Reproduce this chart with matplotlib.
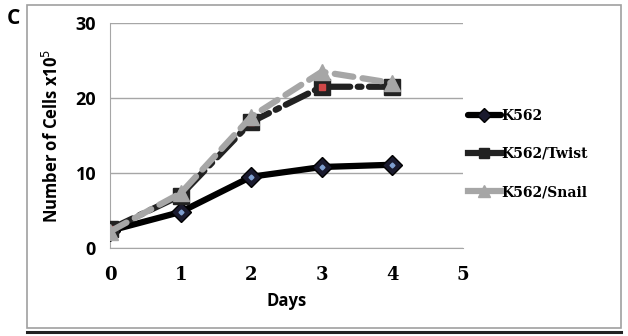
import matplotlib
matplotlib.use("Agg")
import matplotlib.pyplot as plt
from matplotlib.patches import Rectangle
from matplotlib.lines import Line2D

days = [0, 1, 2, 3, 4]
k562 = [2.3, 4.8, 9.5, 10.8, 11.1]
twist = [2.5, 7.0, 16.8, 21.5, 21.5]
snail = [2.2, 7.3, 17.5, 23.5, 22.0]
series_names = ["K562", "K562/Twist", "K562/Snail"]
x_ticks = [0, 1, 2, 3, 4, 5]
y_ticks = [0, 10, 20, 30]

W, H = 628, 336
fig = plt.figure(figsize=(W / 100, H / 100), dpi=100)

def fx(px):
    return px / W

def fy(py):
    return 1 - py / H

# outer frame
fig.patches.append(Rectangle((fx(27), fy(328)), fx(621) - fx(27), fy(5) - fy(328),
                             transform=fig.transFigure, fill=False, edgecolor="#a0a0a0", lw=1.2))
fig.lines.append(Line2D([fx(27), fx(621)], [fy(332), fy(332)], transform=fig.transFigure,
                        color="#222222", lw=2.2))

ax = fig.add_axes([fx(110), fy(248), fx(463) - fx(110), fy(23) - fy(248)])
ax.set_xlim(0, 5)
ax.set_ylim(0, 30)
ax.set_yticks(y_ticks)
ax.set_xticks(x_ticks)
ax.grid(axis="y", color="#a6a6a6", lw=1.0)
ax.set_axisbelow(True)
for s in ["top", "right"]:
    ax.spines[s].set_visible(False)
ax.spines["left"].set_color("#a6a6a6")
ax.spines["bottom"].set_color("#a6a6a6")
ax.tick_params(length=0)
ax.tick_params(axis="y", pad=10)
ax.tick_params(axis="x", pad=13)
for lab in ax.get_yticklabels():
    lab.set_fontfamily("Open Sans")
    lab.set_fontweight("bold")
    lab.set_fontsize(13)
for lab in ax.get_xticklabels():
    lab.set_fontfamily("DejaVu Serif")
    lab.set_fontweight("bold")
    lab.set_fontsize(13)

l1, = ax.plot(days, k562, color="black", lw=4.5, marker="D", ms=10,
              markerfacecolor="#1a1a2e", markeredgecolor="black", solid_capstyle="round",
              label=series_names[0], zorder=3)
ax.plot(days, k562, ls="none", marker="D", ms=2.5, color="#7f9fd0", zorder=4)
l2, = ax.plot(days, twist, color="#222222", lw=4.5, ls=(0, (4, 1.2, 0.6, 1.2)), marker="s", ms=11,
              markerfacecolor="#222222", markeredgecolor="#222222",
              dash_capstyle="round", label=series_names[1], zorder=3)
ax.plot(days, twist, ls="none", marker="s", ms=5, color="#d04848", zorder=4)
l3, = ax.plot(days, snail, color="#a6a6a6", lw=4.5, ls=(0, (3, 1.5)), marker="^", ms=12,
              markerfacecolor="#a6a6a6", markeredgecolor="#a6a6a6",
              dash_capstyle="round", label=series_names[2], zorder=5)

ax.set_xlabel("Days", fontfamily="Open Sans", fontweight="bold", fontsize=12, labelpad=6)
ax.set_ylabel("Number of Cells x10$^{5}$", fontfamily="Open Sans", fontweight="bold", fontsize=12, labelpad=10)

leg = fig.legend(handles=[l1, l2, l3], loc="upper left", bbox_to_anchor=(fx(455), fy(96)),
                 frameon=False, handlelength=2.4, handletextpad=0.05, labelspacing=1.75,
                 markerscale=0.7,
                 prop={"family": "DejaVu Serif", "weight": "bold", "size": 10})
for h in leg.legend_handles:
    h.set_linestyle("-")

fig.text(fx(7), fy(19), "C", fontfamily="Open Sans", fontweight="bold", fontsize=15, va="center")

fig.savefig("out.png", dpi=100)
